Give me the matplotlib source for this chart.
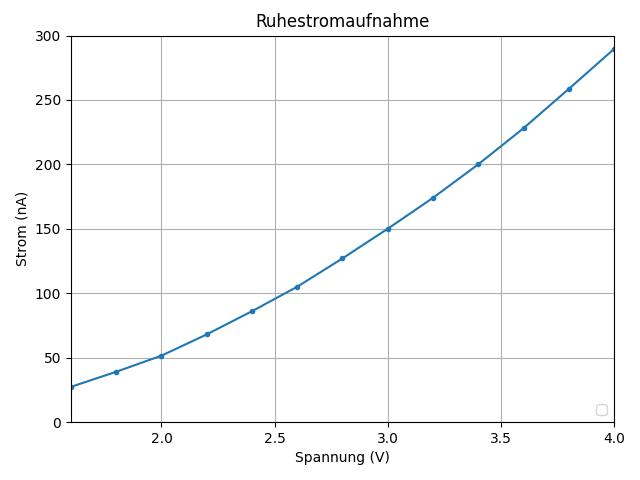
import matplotlib
matplotlib.use("Agg")
import matplotlib.pyplot as plt

spannung = [1.6, 1.8, 2.0, 2.2, 2.4, 2.6, 2.8, 3.0, 3.2, 3.4, 3.6, 3.8, 4.0]
strom = [27.3, 39, 51.5, 68, 86, 105, 127, 150, 174, 200, 228, 258.5, 289.5]

fig, ax = plt.subplots(figsize=(6.4, 4.8), dpi=100)
ax.plot(spannung, strom, marker='.', color='#1f77b4')
ax.set_xlim(1.6, 4.0)
ax.set_ylim(0, 300)
ax.set_title("Ruhestromaufnahme")
ax.set_xlabel("Spannung (V)")
ax.set_ylabel("Strom (nA)")
ax.grid(True)
ax.legend(loc='lower right')
fig.subplots_adjust(left=71/640, right=614/640, top=1-35.5/480, bottom=1-422/480)
fig.savefig("out.png")
